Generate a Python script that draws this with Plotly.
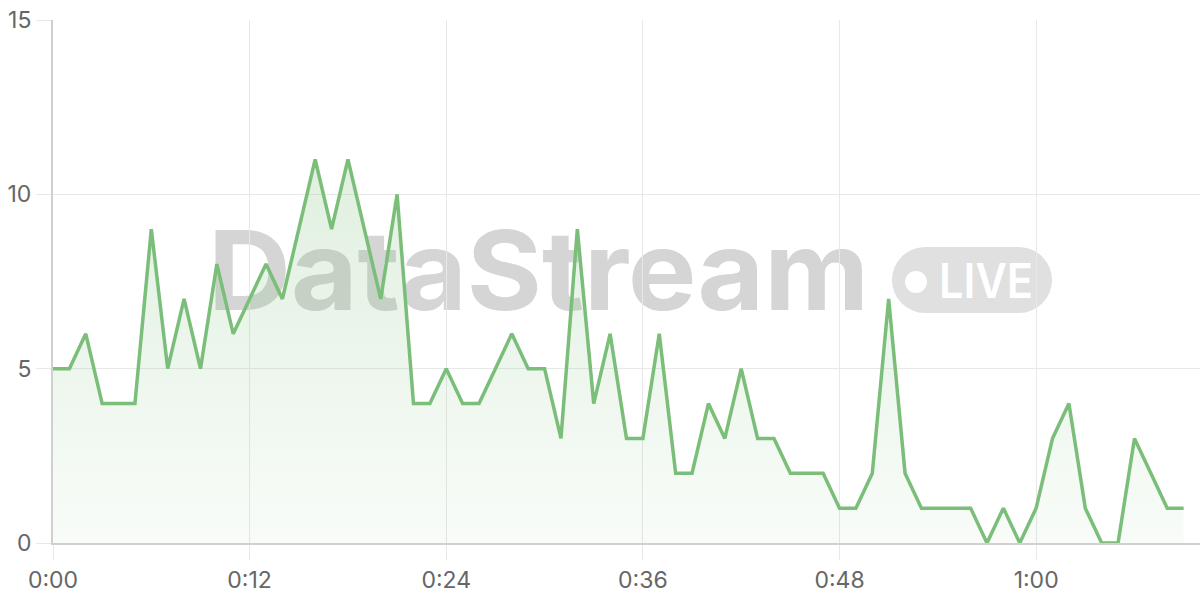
import base64
import plotly.graph_objects as go

minutes = list(range(70))
values = [5, 5, 6, 4, 4, 4, 9, 5, 7, 5,
          8, 6, 7, 8, 7, 9, 11, 9, 11, 9,
          7, 10, 4, 4, 5, 4, 4, 5, 6, 5,
          5, 3, 9, 4, 6, 3, 3, 6, 2, 2,
          4, 3, 5, 3, 3, 2, 2, 2, 1, 1,
          2, 7, 2, 1, 1, 1, 1, 0, 1, 0,
          1, 3, 4, 1, 0, 0, 3, 2, 1, 1]
tick_vals = [0, 12, 24, 36, 48, 60]
tick_text = ["0:00", "0:12", "0:24", "0:36", "0:48", "1:00"]

W, H = 1200, 600
ML, MR, MT, MB = 53, 0, 20, 57
PW, PH = W - ML - MR, H - MT - MB

svg = f'''<svg xmlns="http://www.w3.org/2000/svg" width="{W}" height="{H}" viewBox="0 0 {W} {H}">
<text x="208" y="310" font-family="Inter, Roboto, sans-serif" font-weight="700" font-size="110" fill="#d5d5d5" textLength="661" lengthAdjust="spacingAndGlyphs">DataStream</text>
<rect x="892" y="247" width="160" height="66" rx="33" ry="33" fill="#e0e0e0"/>
<circle cx="916" cy="282" r="11" fill="#ffffff"/>
<text x="939" y="298" font-family="Inter, Roboto, sans-serif" font-weight="600" font-size="48" fill="#ffffff" textLength="94" lengthAdjust="spacingAndGlyphs">LIVE</text>
</svg>'''
src = "data:image/svg+xml;base64," + base64.b64encode(svg.encode()).decode()

fig = go.Figure()
fig.add_trace(go.Scatter(
    x=minutes, y=values, mode="lines",
    line=dict(color="rgb(122,190,122)", width=3.5),
    fill="tozeroy",
    fillgradient=dict(type="vertical", start=0, stop=15,
                      colorscale=[[0, "rgba(122,190,122,0.05)"], [1, "rgba(122,190,122,0.30)"]]),
    hoverinfo="skip", showlegend=False,
))

fig.update_layout(
    width=W, height=H,
    margin=dict(l=ML, r=MR, t=MT, b=MB, pad=0, autoexpand=False),
    paper_bgcolor="white", plot_bgcolor="white",
    font=dict(family="Inter, Roboto, sans-serif", size=23, color="#666666"),
    images=[dict(source=src, xref="paper", yref="paper",
                 x=-ML / PW, y=1 + MT / PH, sizex=W / PW, sizey=H / PH,
                 xanchor="left", yanchor="top", sizing="stretch", layer="below")],
)
fig.update_xaxes(
    range=[0, 70], tickvals=tick_vals, ticktext=tick_text,
    showgrid=True, gridcolor="#e8e8e8", gridwidth=1,
    ticks="outside", ticklen=15, tickcolor="#e8e8e8", tickwidth=1,
    showline=True, linecolor="#d0d0d0", linewidth=2,
    zeroline=False, fixedrange=True,
)
fig.update_yaxes(
    range=[0, 15], tickvals=[0, 5, 10, 15],
    showgrid=True, gridcolor="#e8e8e8", gridwidth=1,
    ticks="outside", ticklen=15, tickcolor="#e8e8e8", tickwidth=1,
    showline=True, linecolor="#d0d0d0", linewidth=2,
    zeroline=False, fixedrange=True,
)

fig.write_html("out.html", config={"displayModeBar": False},
               post_script="document.body.style.margin='0';document.body.style.overflow='hidden';")
